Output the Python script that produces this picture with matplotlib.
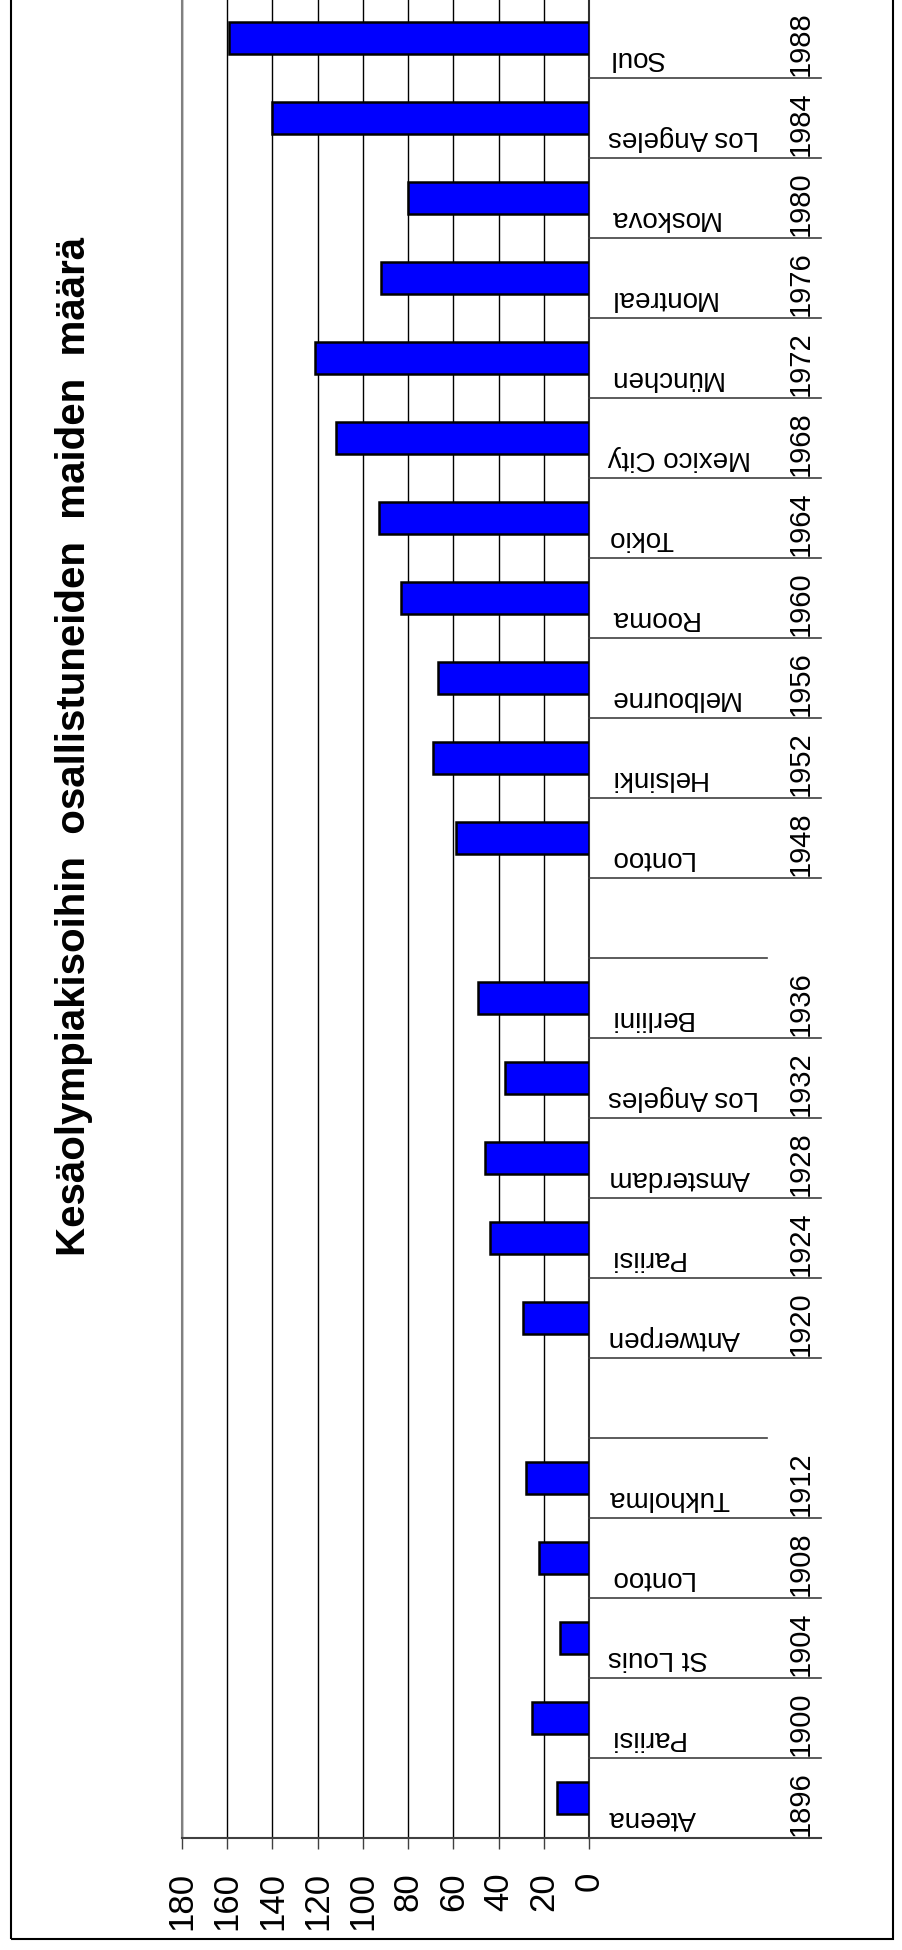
import matplotlib
matplotlib.use('Agg')
import matplotlib.pyplot as plt
from matplotlib.transforms import blended_transform_factory
from matplotlib.lines import Line2D
from matplotlib.patches import Rectangle

plt.rcParams['font.family'] = ['Liberation Sans', 'DejaVu Sans']

# ---- data ----
years = ['1896', '1900', '1904', '1908', '1912', '', '1920', '1924', '1928', '1932',
         '1936', '', '1948', '1952', '1956', '1960', '1964', '1968', '1972', '1976',
         '1980', '1984', '1988']
cities = ['Ateena', 'Pariisi', 'St Louis', 'Lontoo', 'Tukholma', '', 'Antwerpen',
          'Pariisi', 'Amsterdam', 'Los Angeles', 'Berliini', '', 'Lontoo', 'Helsinki',
          'Melbourne', 'Rooma', 'Tokio', 'Mexico City', 'München', 'Montreal',
          'Moskova', 'Los Angeles', 'Soul']
countries = [14, 25, 13, 22, 28, None, 29, 44, 46, 37, 49, None, 59, 69, 67, 83, 93,
             112, 121, 92, 80, 140, 159]
value_ticks = [0, 20, 40, 60, 80, 100, 120, 140, 160, 180]
title = 'Kesäolympiakisoihin  osallistuneiden  maiden  määrä'

W, H = 902, 1950
fig = plt.figure(figsize=(W / 100, H / 100), dpi=100)

# plot area in pixel terms
x_left, x_zero, y_axis, y_top = 182, 589, 1838, -2
ax = fig.add_axes([x_left / W, (H - y_axis) / H, (x_zero - x_left) / W, (y_axis - y_top) / H])

n = len(years)
pos = [i for i, v in enumerate(countries) if v is not None]
vals = [countries[i] for i in pos]
ax.barh(pos, vals, height=0.4, color='#0000ff', edgecolor='black', linewidth=1.8, zorder=3)

ax.set_xlim(180, 0)
ax.set_ylim(-0.5, n - 0.5)
ax.set_xticks(value_ticks)
ax.set_xticklabels([str(v) for v in value_ticks])
ax.set_yticks([])
ax.xaxis.grid(True, color='black', linewidth=1.0)
ax.set_axisbelow(True)
ax.tick_params(axis='x', direction='out', length=8, width=1, color='#404040',
               labelsize=25, labelrotation=90, pad=16.5)

ax.spines['top'].set_visible(False)
ax.spines['left'].set_color('#808080')
ax.spines['left'].set_linewidth(1.5)
ax.spines['right'].set_color('#303030')
ax.spines['right'].set_linewidth(1.5)
ax.spines['bottom'].set_color('#404040')
ax.spines['bottom'].set_linewidth(1.5)

trans = blended_transform_factory(fig.transFigure, ax.transData)

# bottom axis extension
fig.add_artist(Line2D([x_zero / W, 821 / W], [-0.5, -0.5], transform=trans,
                      color='#404040', linewidth=1.5))

# category boundaries
gaps = [i for i, v in enumerate(countries) if v is None]
for k in range(1, n):
    yb = k - 0.5
    xr = 767 if k in gaps else 821
    fig.add_artist(Line2D([x_zero / W, xr / W], [yb, yb], transform=trans,
                          color='#404040', linewidth=1.2))

# category labels
for i in range(n):
    if cities[i]:
        fig.text(608 / W, i - 0.5 + 7 / 80, cities[i], transform=trans, rotation=180,
                 ha='left', va='bottom', fontsize=20)
    if years[i]:
        fig.text(787 / W, i - 0.5 + 2 / 80, years[i], transform=trans, rotation=90,
                 ha='left', va='bottom', fontsize=21)

# title
fig.text(74 / W, (H - 746) / H, title, rotation=90, ha='center', va='center',
         fontsize=29, fontweight='bold')

# outer frame
fig.add_artist(Rectangle((11 / W, (H - 1939) / H), (893 - 11) / W, 1.2,
                         transform=fig.transFigure, fill=False, edgecolor='black',
                         linewidth=1.5))

fig.savefig('out.png', dpi=100)
